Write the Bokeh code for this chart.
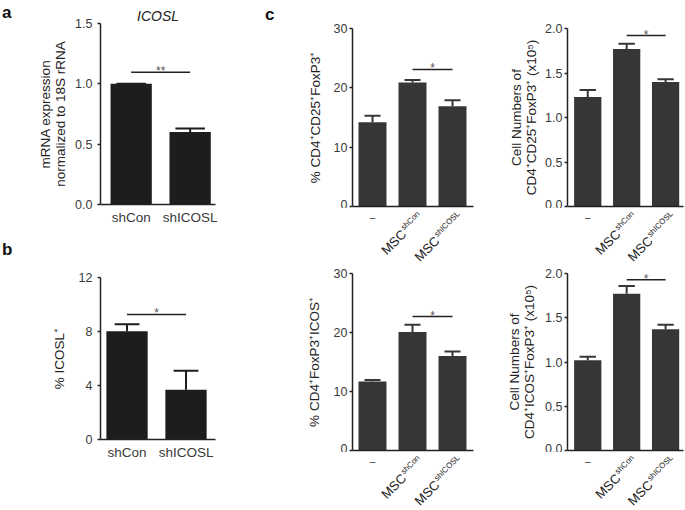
from math import pi
from bokeh.plotting import figure
from bokeh.layouts import row, column
from bokeh.models import Label, FixedTicker, Range1d, Div, ColumnDataSource
from bokeh.core.properties import value
from bokeh.embed import file_html
from bokeh.resources import INLINE

# ---------------- data ----------------
ab_categories = ["shCon", "shICOSL"]
a_values = [1.00, 0.60]
a_errors = [0.0, 0.03]
b_values = [8.02, 3.68]
b_errors = [0.52, 1.42]

c_dash_label = "–"
c_main_label = "MSC"
c_superscripts = ["shCon", "shICOSL"]
c1_values = [14.2, 20.9, 16.9]
c1_errors = [1.1, 0.4, 1.0]
c2_values = [1.23, 1.77, 1.40]
c2_errors = [0.08, 0.06, 0.03]
c3_values = [11.7, 20.1, 16.0]
c3_errors = [0.25, 1.2, 0.8]
c4_values = [1.02, 1.77, 1.37]
c4_errors = [0.04, 0.09, 0.05]

a_yticks = [0, 0.5, 1.0, 1.5]
a_ytick_labels = ["0.0", "0.5", "1.0", "1.5"]
b_yticks = [0, 4, 8, 12]
b_ytick_labels = ["0", "4", "8", "12"]
pct_yticks = [0, 10, 20, 30]
pct_ytick_labels = ["0", "10", "20", "30"]
num_yticks = [0, 0.5, 1.0, 1.5, 2.0]
num_ytick_labels = ["0.0", "0.5", "1.0", "1.5", "2.0"]

FONT = "Liberation Sans"
AXIS_COLOR = "#222222"
TICK_TEXT = "#3a3a3a"
BAR_AB = "#1d1d1d"
BAR_C = "#363636"


def make_fig(width, height, left, right, top, bottom, x_start, x_end, y_end,
             yticks, ylabels, ylabel, label_standoff, tick_standoff):
    p = figure(width=width, height=height,
               x_range=Range1d(x_start, x_end), y_range=Range1d(0, y_end),
               output_backend="svg", toolbar_location=None,
               min_border_left=left, min_border_right=right,
               min_border_top=top, min_border_bottom=bottom)
    p.outline_line_color = None
    p.grid.visible = False
    ya = p.yaxis[0]
    ya.ticker = FixedTicker(ticks=yticks)
    ya.major_label_overrides = {float(t): l for t, l in zip(yticks, ylabels)}
    ya.axis_line_color = AXIS_COLOR
    ya.axis_line_width = 1.5
    ya.major_tick_line_color = AXIS_COLOR
    ya.major_tick_line_width = 1.5
    ya.major_tick_out = 3
    ya.major_tick_in = 0
    ya.minor_tick_line_color = None
    ya.major_label_text_font = FONT
    ya.major_label_text_font_size = "12.5px"
    ya.major_label_text_color = TICK_TEXT
    ya.major_label_standoff = tick_standoff
    ya.axis_label = ylabel
    ya.axis_label_text_font = FONT
    ya.axis_label_text_font_size = "13.5px"
    ya.axis_label_text_font_style = "normal"
    ya.axis_label_text_color = "#222222"
    ya.axis_label_text_line_height = 1.0
    ya.axis_label_standoff = label_standoff
    xa = p.xaxis[0]
    xa.axis_line_color = AXIS_COLOR
    xa.axis_line_width = 1.5
    xa.major_tick_line_color = None
    xa.minor_tick_line_color = None
    xa.major_tick_out = 0
    xa.major_tick_in = 0
    xa.major_label_text_font = FONT
    xa.major_label_text_color = TICK_TEXT
    return p


def add_bars(p, values, errors, color, cap_w):
    xs = list(range(len(values)))
    tops = [v + e for v, e in zip(values, errors)]
    p.vbar(x=xs, top=values, bottom=0, width=0.7, fill_color=color, line_color=None)
    p.segment(x0=xs, y0=values, x1=xs, y1=tops, line_color=color, line_width=2)
    p.segment(x0=[x - cap_w / 2 for x in xs], y0=tops,
              x1=[x + cap_w / 2 for x in xs], y1=tops, line_color=color, line_width=2)


def add_sig(p, x0, x1, h, stars):
    p.segment(x0=[x0], y0=[h], x1=[x1], y1=[h], line_color=AXIS_COLOR, line_width=1.5)
    p.add_layout(Label(x=(x0 + x1) / 2, y=h, text=stars, text_align="center",
                       text_baseline="alphabetic", y_offset=1, text_font=FONT,
                       text_font_size="12px", text_color="#555555"))


def setup_ab_xaxis(p):
    xa = p.xaxis[0]
    xa.ticker = FixedTicker(ticks=[0, 1])
    xa.major_label_overrides = {i: c for i, c in enumerate(ab_categories)}
    xa.major_label_text_font_size = "13.5px"
    xa.major_label_standoff = 5


def setup_c_xaxis(p):
    xa = p.xaxis[0]
    xa.ticker = FixedTicker(ticks=[])


SUP_W = [23.1, 32.5]
R = 0.7071


def make_strip(width, height, left, right, x_range):
    """tick-label strip directly beneath a panel of c, sharing its x range.
    Its y range is measured in pixels, so depths below the axis map directly."""
    s = figure(width=width, height=height, x_range=x_range, y_range=Range1d(0, height),
               output_backend="svg", toolbar_location=None,
               x_axis_location=None, y_axis_location=None,
               min_border_left=left, min_border_right=right,
               min_border_top=0, min_border_bottom=0)
    s.outline_line_color = None
    s.grid.visible = False
    gap = 2  # strip top lies 2px below the x axis line
    H = height
    s.text(x=[0], y=[H - (11 - gap)], text=[c_dash_label], text_align="center",
           text_baseline="middle", text_font=value(FONT), text_font_size="10px",
           text_color="#333333")
    sx, sy = 6, 6
    sup_x, sup_y, sup_xo, main_x, main_y, main_xo = [], [], [], [], [], []
    for i, w in zip([1, 2], SUP_W):
        sup_x.append(i)
        sup_y.append(H - (sy - gap))
        sup_xo.append(sx)
        mx = sx - R * (w + 1) + R * 3.5
        my = sy + R * (w + 1) + R * 3.5
        main_x.append(i)
        main_y.append(H - (my - gap))
        main_xo.append(mx)
    src_sup = ColumnDataSource(dict(x=sup_x, y=sup_y, xo=sup_xo, t=c_superscripts))
    src_main = ColumnDataSource(dict(x=main_x, y=main_y, xo=main_xo,
                                     t=[c_main_label] * len(main_x)))
    s.text(x="x", y="y", text="t", x_offset="xo", angle=pi / 4, source=src_sup,
           text_align="right", text_baseline="middle", text_font=value(FONT),
           text_font_size="8px", text_color="#222222")
    s.text(x="x", y="y", text="t", x_offset="xo", angle=pi / 4, source=src_main,
           text_align="right", text_baseline="middle", text_font=value(FONT),
           text_font_size="13px", text_color="#222222")
    return s


def letter_div(html, width, height):
    return Div(text=html, width=width, height=height, margin=(0, 0, 0, 0),
               styles={"font-family": FONT, "font-size": "17px", "font-weight": "bold",
                       "color": "#111111", "line-height": "17px"})


# ---------------- panel a ----------------
pa = make_fig(238, 230, 88, 35, 23, 26, -0.52, 1.43, 1.5, a_yticks, a_ytick_labels,
              "mRNA expression\nnormalized to 18S rRNA", 4, 5)
pa.title.text = "ICOSL"
pa.title.align = "center"
pa.title.text_font = FONT
pa.title.text_font_size = "14px"
pa.title.text_font_style = "italic"
pa.title.text_color = "#222222"
pa.title.standoff = 0
setup_ab_xaxis(pa)
add_bars(pa, a_values, a_errors, BAR_AB, 0.5)
add_sig(pa, 0, 1, 1.095, "**")

# ---------------- panel b ----------------
pb = make_fig(238, 280, 88, 35, 47, 71, -0.45, 1.5, 12, b_yticks, b_ytick_labels,
              "% ICOSL⁺", 9, 5)
setup_ab_xaxis(pb)
add_bars(pb, b_values, b_errors, BAR_AB, 0.42)
add_sig(pb, 0, 1, 9.26, "*")

# ---------------- panel c ----------------
pc1 = make_fig(210, 208, 72, 17, 28, 2, -0.5, 2.525, 30, pct_yticks, pct_ytick_labels,
               "% CD4⁺CD25⁺FoxP3⁺", 8, 2)
setup_c_xaxis(pc1)
add_bars(pc1, c1_values, c1_errors, BAR_C, 0.4)
add_sig(pc1, 1, 2, 23.1, "*")

pc2 = make_fig(195, 208, 77, 2, 28, 2, -0.52, 2.46, 2.0, num_yticks, num_ytick_labels,
               "Cell Numbers of\nCD4⁺CD25⁺FoxP3⁺ (x10⁵)", 3, 2)
setup_c_xaxis(pc2)
add_bars(pc2, c2_values, c2_errors, BAR_C, 0.42)
add_sig(pc2, 1, 2, 1.92, "*")

pc3 = make_fig(210, 188, 72, 17, 9, 2, -0.5, 2.525, 30, pct_yticks, pct_ytick_labels,
               "% CD4⁺FoxP3⁺ICOS⁺", 9, 2)
setup_c_xaxis(pc3)
add_bars(pc3, c3_values, c3_errors, BAR_C, 0.4)
add_sig(pc3, 1, 2, 22.7, "*")

pc4 = make_fig(195, 188, 77, 2, 9, 2, -0.52, 2.46, 2.0, num_yticks, num_ytick_labels,
               "Cell Numbers of\nCD4⁺ICOS⁺FoxP3⁺ (x10⁵)", 5, 2)
setup_c_xaxis(pc4)
add_bars(pc4, c4_values, c4_errors, BAR_C, 0.42)
add_sig(pc4, 1, 2, 1.93, "*")

s1 = make_strip(210, 56, 72, 17, pc1.x_range)
s2 = make_strip(195, 56, 77, 2, pc2.x_range)
s3 = make_strip(210, 58, 72, 17, pc3.x_range)
s4 = make_strip(195, 58, 77, 2, pc4.x_range)

div_ab = letter_div('<div style="padding-top:4px;padding-left:2px">a</div>'
                    '<div style="padding-top:220px;padding-left:2px">b</div>', 12, 510)
div_c = letter_div('<div style="padding-top:6px;padding-left:15px">c</div>', 30, 510)

layout = row(div_ab, column(pa, pb), div_c,
             column(row(pc1, pc2), row(s1, s2), row(pc3, pc4), row(s3, s4)))

open("out.html", "w").write(file_html(layout, INLINE))
